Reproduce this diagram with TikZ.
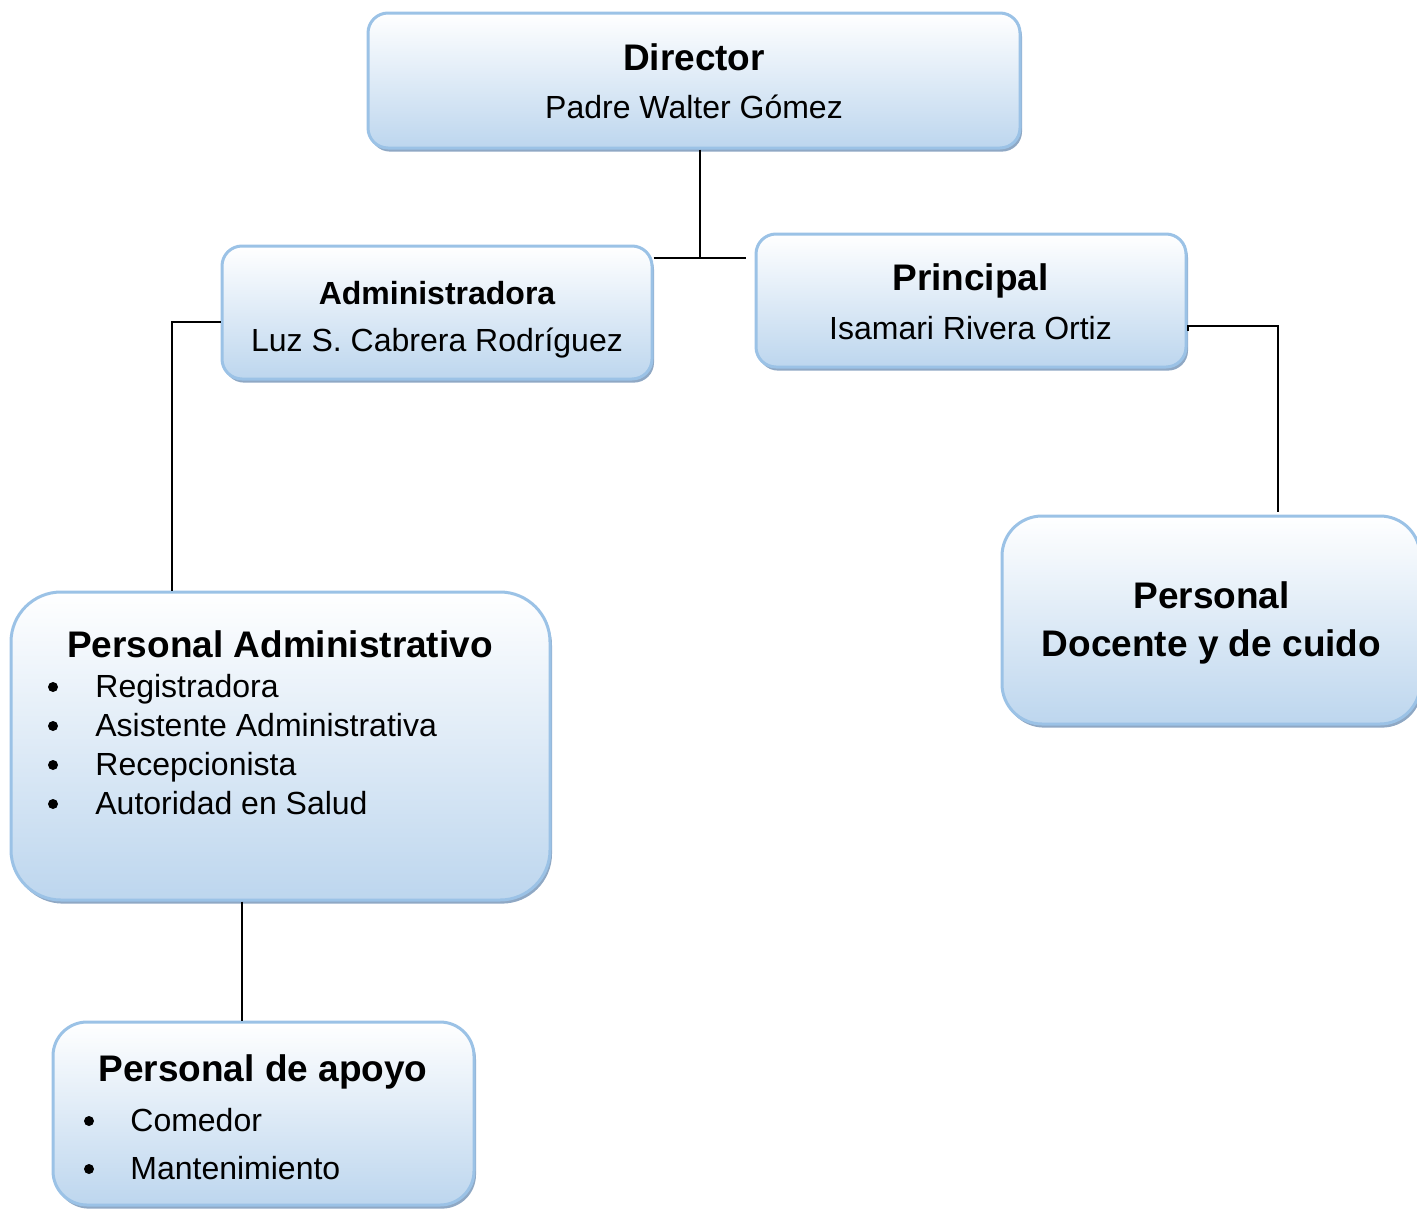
\documentclass[tikz,border=0pt]{standalone}
\usepackage{fontspec}
\setmainfont{Liberation Sans}
\usetikzlibrary{shadows}
\definecolor{boxedge}{HTML}{9BC2E6}
\definecolor{boxfill}{HTML}{BDD6EE}
\definecolor{boxshadow}{HTML}{8FA8C4}
\begin{document}
\begin{tikzpicture}[x=0.5pt,y=-0.5pt,
  orgbox/.style={draw=boxedge, line width=1.5pt, rounded corners=#1,
    top color=white, bottom color=boxfill, inner sep=0pt,
    drop shadow={shadow xshift=1pt, shadow yshift=-1.8pt, fill=boxshadow, opacity=1}},
  ttl/.style={font=\fontsize{18.5}{22}\selectfont\bfseries, anchor=base, inner sep=0pt},
  ttlsmall/.style={font=\fontsize{16}{19}\selectfont\bfseries, anchor=base, inner sep=0pt},
  sub/.style={font=\fontsize{16}{19}\selectfont, anchor=base, inner sep=0pt},
  itm/.style={font=\fontsize{16}{19}\selectfont, anchor=base west, inner sep=0pt},
  bul/.style={circle, fill=black, inner sep=0pt, minimum size=5pt},
  conn/.style={draw=black, line width=1pt}]
\useasboundingbox (0,0) rectangle (1417,1210);
\clip (0,0) rectangle (1417,1210);

% boxes
\node[orgbox=10pt, minimum width=326pt, minimum height=67.5pt] (dir) at (694,80.5) {};
\node[orgbox=10pt, minimum width=215pt, minimum height=66.5pt] (adm) at (437,312.5) {};
\node[orgbox=10pt, minimum width=215pt, minimum height=66.5pt] (pri) at (971,300.5) {};
\node[orgbox=20pt, minimum width=209pt, minimum height=104pt] (doc) at (1211,620) {};
\node[orgbox=25pt, minimum width=269.5pt, minimum height=154pt] (padm) at (280.5,746) {};
\node[orgbox=17pt, minimum width=210.5pt, minimum height=91.5pt] (apo) at (263.5,1113.5) {};

% texts
\node[ttl] (tdir) at (694,70) {Director};
\node[sub] (sdir) at (694,118) {Padre Walter Gómez};
\node[ttlsmall] (tadm) at (437,304) {Administradora};
\node[sub] (sadm) at (437,351) {Luz S. Cabrera Rodríguez};
\node[ttl] (tpri) at (970.5,290) {Principal};
\node[sub] (spri) at (970.5,339) {Isamari Rivera Ortiz};
\node[ttl] (tdoc1) at (1211.5,608) {Personal};
\node[ttl] (tdoc2) at (1211.5,656) {Docente y de cuido};
\node[ttl] (tpadm) at (280,657) {Personal Administrativo};
\node[bul] (b1) at (53,687) {};
\node[itm] (i1) at (95,697) {Registradora};
\node[bul] (b2) at (53,726) {};
\node[itm] (i2) at (95,736) {Asistente Administrativa};
\node[bul] (b3) at (53,765) {};
\node[itm] (i3) at (95,775) {Recepcionista};
\node[bul] (b4) at (53,804) {};
\node[itm] (i4) at (95,814) {Autoridad en Salud};
\node[ttl] (tapo) at (263,1081) {Personal de apoyo};
\node[bul] (b5) at (89,1121) {};
\node[itm] (i5) at (130,1131) {Comedor};
\node[bul] (b6) at (89,1169) {};
\node[itm] (i6) at (130,1179) {Mantenimiento};

% connectors
\coordinate (j) at (700,258);
\coordinate (jr) at (746,258);
\draw[conn] (dir.south -| j) -- (j);
\draw[conn] (adm.east |- j) -- (jr);
\coordinate (a1) at (172,322);
\draw[conn] (adm.west |- a1) -- (a1) -- (a1 |- padm.north);
\coordinate (p1) at (1278,326);
\coordinate (p2) at (1278,512);
\draw[conn] ([yshift=-2.5pt]pri.east |- p1) -- (pri.east |- p1) -- (p1) -- (p2);
\coordinate (c1) at (242,0);
\draw[conn] (padm.south -| c1) -- (apo.north -| c1);
\end{tikzpicture}
\end{document}
